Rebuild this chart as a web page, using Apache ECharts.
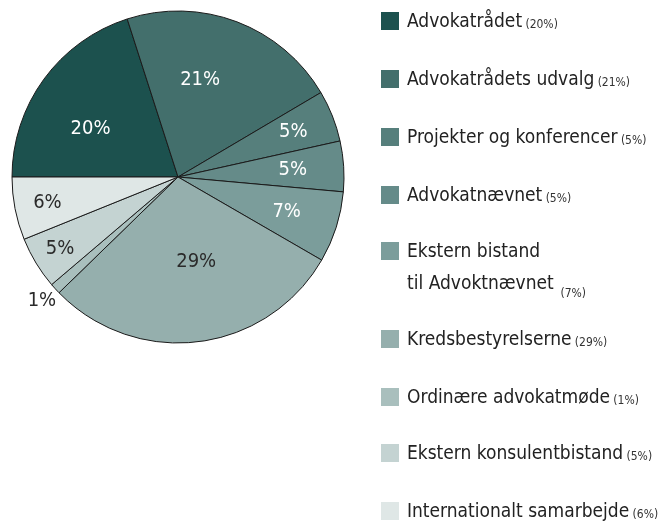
<!DOCTYPE html>
<html>
<head>
<meta charset="utf-8">
<script src="https://cdn.jsdelivr.net/npm/echarts@6/dist/echarts.min.js"></script>
<style>
html, body { margin: 0; padding: 0; background: #fff; }
#chart { width: 672px; height: 523px; }
</style>
</head>
<body>
<div id="chart"></div>
<script>
const categories = [
  "Advokatrådet",
  "Advokatrådets udvalg",
  "Projekter og konferencer",
  "Advokatnævnet",
  "Ekstern bistand\ntil Advoktnævnet",
  "Kredsbestyrelserne",
  "Ordinære advokatmøde",
  "Ekstern konsulentbistand",
  "Internationalt samarbejde",
];
const shares = [20.0, 21.4, 5.0, 4.9, 6.9, 29.3, 1.05, 5.1, 6.1];

const colors = ["#1c514e", "#436f6c", "#567f7c", "#658b89", "#7b9d9b", "#95afad", "#a9bfbd", "#c4d3d2", "#dfe7e6"];
const labelColors = ["#fff", "#fff", "#fff", "#fff", "#fff", "#2a2a2a", "#2a2a2a", "#2a2a2a", "#2a2a2a"];
// space between name and the small percentage
const pctGap = [" ", " ", " ", " ", "  ", " ", " ", " ", " "];

// layout
const pieCenter = [178, 177];
const labelRadius = [100, 100, 124, 115, 114, 87, 184, 138, 133];
const labelTurn = [7, 8, 0, 0, 0, 5, 0, 0, 0];
const legendTops = [12, 70, 128, 186, 242, 330, 388, 444, 502];
const font = "'Liberation Sans Narrow', 'DejaVu Sans Condensed', sans-serif";

const chart = echarts.init(document.getElementById("chart"));

const legends = categories.map((name, i) => {
  const twoLine = name.indexOf("\n") >= 0;
  return {
    data: [name],
    orient: "vertical",
    left: 381,
    top: legendTops[i],
    padding: 0,
    itemWidth: 18,
    itemHeight: 18,
    icon: "rect",
    selectedMode: false,
    itemStyle: { borderWidth: 0 },
    formatter: (n) => {
      const lines = n.split("\n").map((l) => "{n|" + l + "}");
      return lines.join("\n") + pctGap[i] + "{p|(" + Math.round(shares[i]) + "%)}";
    },
    textStyle: {
      padding: twoLine ? [34, 0, 0, 3] : [2, 0, 0, 3],
      rich: {
        n: {
          fontFamily: font,
          fontSize: 19,
          lineHeight: twoLine ? 32 : 18,
          color: "#222",
        },
        p: {
          fontFamily: font,
          fontSize: 12,
          lineHeight: 12,
          verticalAlign: "bottom",
          color: "#333",
        },
      },
    },
  };
});

const option = {
  animation: false,
  color: colors,
  legend: legends,
  series: [
    {
      type: "pie",
      center: pieCenter,
      radius: 166,
      startAngle: 180,
      clockwise: true,
      avoidLabelOverlap: false,
      silent: true,
      itemStyle: {
        borderColor: "#1a1a1a",
        borderWidth: 1,
      },
      label: {
        show: true,
        position: "inside",
        fontFamily: font,
        fontSize: 20,
        formatter: (p) => Math.round(p.value) + "%",
      },
      labelLine: { show: false },
      labelLayout: (params) => {
        const r = params.labelRect;
        const x = r.x + r.width / 2 - pieCenter[0];
        const y = r.y + r.height / 2 - pieCenter[1];
        const a = Math.atan2(-y, x) + (labelTurn[params.dataIndex] * Math.PI) / 180;
        const R = labelRadius[params.dataIndex];
        return { dx: R * Math.cos(a) - x, dy: -R * Math.sin(a) - y };
      },
      data: categories.map((name, i) => ({
        name: name,
        value: shares[i],
        label: { color: labelColors[i] },
      })),
    },
  ],
};

chart.setOption(option);
</script>
</body>
</html>
